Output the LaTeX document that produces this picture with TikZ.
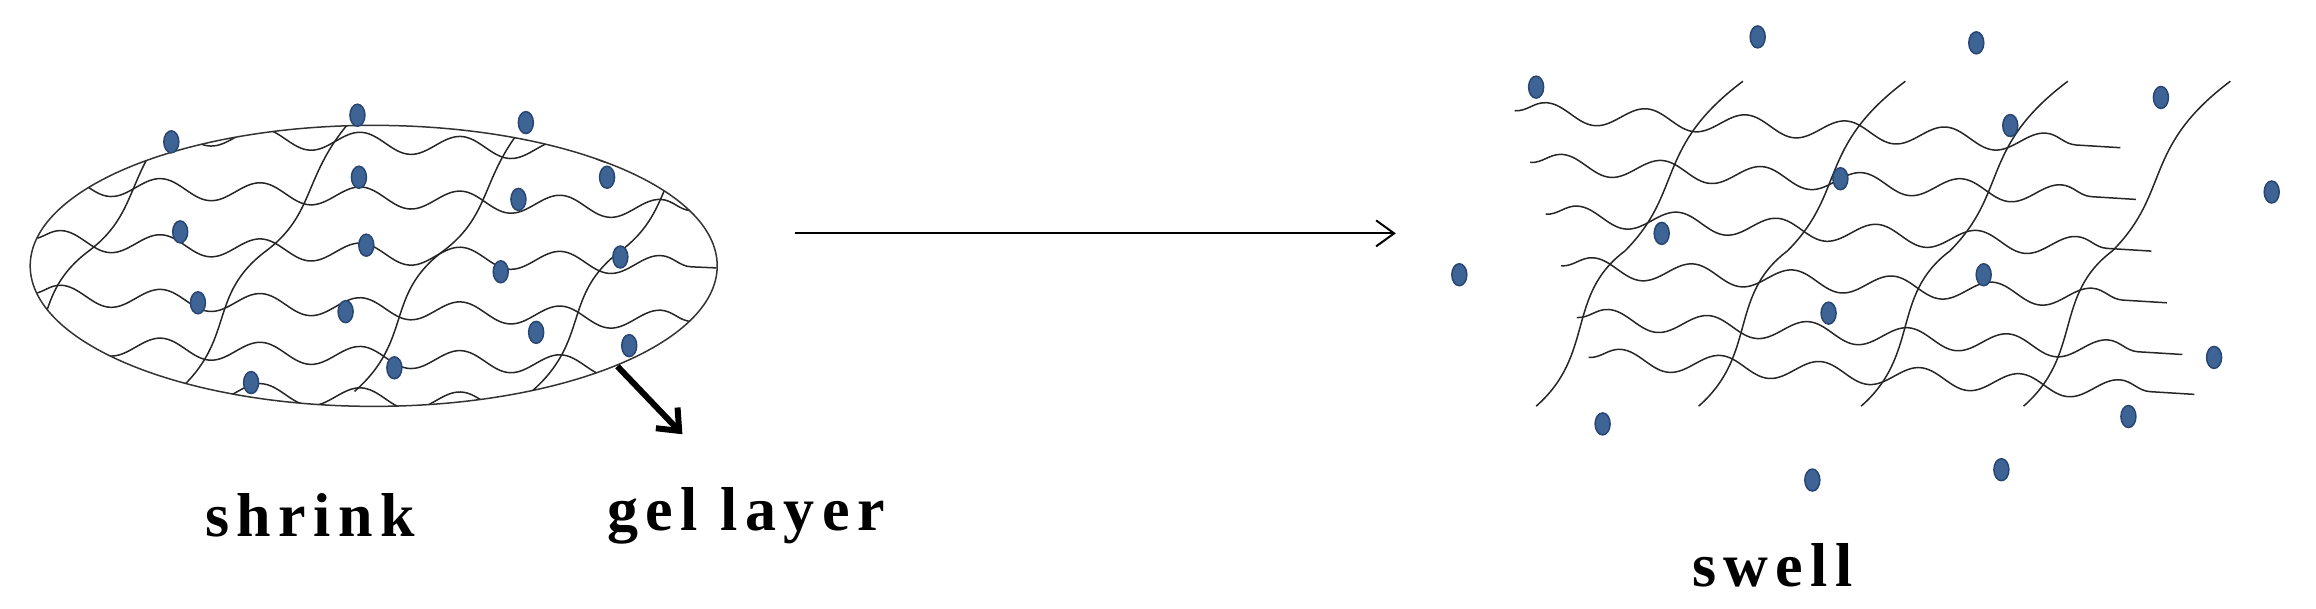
\documentclass[tikz,border=0pt]{standalone}
\usepackage{fontspec}
\setmainfont{Liberation Serif}
\newfontfamily\labfont[LetterSpace=12]{Liberation Serif}
\usetikzlibrary{decorations.pathmorphing,arrows.meta,shapes.geometric}
\definecolor{ionfill}{RGB}{62,100,150}
\definecolor{ionedge}{RGB}{40,70,115}
\begin{document}
\begin{tikzpicture}[x=1.477pt,y=-1.477pt,
  ion/.style={ellipse,draw=ionedge,fill=ionfill,line width=1.5pt,minimum width=15pt,minimum height=22pt,inner sep=0pt},
  wave/.style={draw=black!85,line width=1.5pt,decorate,decoration={snake,amplitude=10,segment length=100}},
  diag/.style={draw=black!85,line width=1.5pt},
  lab/.style={font=\labfont\bfseries\fontsize{62}{66}\selectfont}]
\useasboundingbox (0,0) rectangle (1568,412);
% left gel
\node[draw=black!80,line width=1.5pt,ellipse,minimum width=687pt,minimum height=281pt,inner sep=0pt] (gel) at (253,180) {};
\begin{scope}
\clip (253,180) ellipse [x radius=232, y radius=95];
\foreach \y in {95,132,170,207,240,268}{
  \path[wave] (20,\y-8) -- (500,\y+12);
}
\foreach \x in {60,180,300,420,520}{
  \draw[diag] (\x-60,265) .. controls (\x-20,230) and (\x-40,200) .. (\x,170) .. controls (\x+40,140) and (\x+20,110) .. (\x+80,60);
}
\end{scope}
% right swell mesh
\foreach \y in {85,120,155,190,225,252}{
  \path[wave] (1040+0.3*\y-40,\y-10) -- (1470+0.3*\y-60,\y+15);
}
\foreach \x in {1080,1190,1300,1410}{
  \draw[diag] (\x-40,275) .. controls (\x,240) and (\x-20,200) .. (\x+20,170) .. controls (\x+60,130) and (\x+40,100) .. (\x+100,55);
}
% ions
\foreach \p [count=\i] in {(116,96),(242,78),(356,83),(243,120),(351,135),(411,120),(122,157),(248,166),(420,174),(339,184),(134,205),(234,211),(363,225),(426,234),(267,249),(170,259)}
  \node[ion] (l\i) at \p {};
\foreach \p [count=\i] in {(1190,25),(1338,29),(1040,59),(1463,66),(1361,85),(1246,121),(1538,130),(1125,158),(988,186),(1343,186),(1238,212),(1499,242),(1441,282),(1085,287),(1355,318),(1227,325)}
  \node[ion] (r\i) at \p {};
% arrows
\coordinate (a1) at (538,158); \coordinate (a2) at (945,158);
\draw[-{Straight Barb[length=18pt,width=26pt]},line width=2pt] (a1) -- (a2);
\coordinate (g1) at (418,248); \coordinate (g2) at (462,294);
\draw[-{Straight Barb[length=18pt,width=30pt]},line width=6pt] (g1) -- (g2);
% labels
\node[lab] (shrink) at (210,349) {shrink};
\node[lab] (gl) at (505,349) {gel layer};
\node[lab] (swell) at (1200,383) {swell};
\end{tikzpicture}
\end{document}
